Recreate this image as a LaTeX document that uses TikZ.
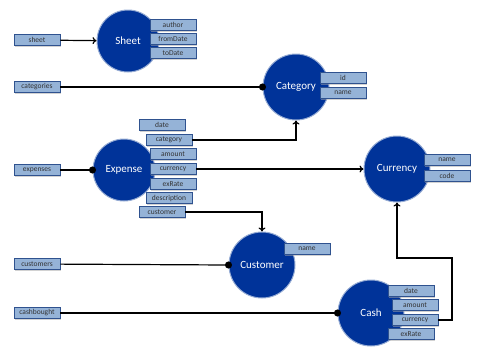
\documentclass[tikz,border=0pt]{standalone}
\usepackage{fontspec}
\setmainfont{Carlito}
\usetikzlibrary{arrows.meta,shadows}
\definecolor{entblue}{RGB}{0,51,153}
\definecolor{entrim}{RGB}{150,172,212}
\definecolor{attrfill}{RGB}{149,179,215}
\definecolor{attrline}{RGB}{47,82,143}
\tikzset{
  entity/.style={circle,fill=entblue,draw=entrim,line width=1pt,text=white,
    font=\fontsize{11}{13}\selectfont,inner sep=0pt},
  attr/.style={rectangle,fill=attrfill,draw=attrline,line width=0.8pt,
    minimum width=46pt,minimum height=11pt,inner sep=0pt,text=black!80,
    font=\fontsize{7.5}{8}\selectfont,
    drop shadow={shadow xshift=1pt,shadow yshift=-1pt,fill=black!35}},
  link/.style={line width=1.2pt},
  dot/.style={link,-{Circle[length=7pt]},shorten >=-3.5pt},
  arr/.style={link,-{To[length=4pt,width=7pt]}}
}

\begin{document}
\begin{tikzpicture}[x=1pt,y=-1pt]
  \useasboundingbox (0,0) rectangle (480,360);
  % 実体
  \node[entity,minimum size=62pt] (Sheet) at (128,41) {Sheet};
  \node[entity,minimum size=66pt] (Category) at (296,87) {Category};
  \node[entity,minimum size=62pt] (Expense) at (124,170) {Expense};
  \node[entity,minimum size=66pt] (Currency) at (397,169) {Currency};
  \node[entity,minimum size=66pt] (Customer) at (262,265) {Customer};
  \node[entity,minimum size=66pt] (Cash) at (371,313) {Cash};
  % 集合
  \node[attr] (sheet) at (37,40) {sheet};
  \node[attr] (categories) at (37,87) {categories};
  \node[attr] (expenses) at (37,170) {expenses};
  \node[attr] (customers) at (37,264) {customers};
  \node[attr] (cashbought) at (37,313) {cashbought};
  % 属性
  \node[attr] (sheetAuthor) at (173,25) {author};
  \node[attr] (sheetFrom) at (173,39) {fromDate};
  \node[attr] (sheetTo) at (173,53) {toDate};
  \node[attr] (catId) at (343,78) {id};
  \node[attr] (catName) at (343,93) {name};
  \node[attr] (expDate) at (162,125) {date};
  \node[attr] (expCat) at (169,140) {category};
  \node[attr] (expAmount) at (173,154) {amount};
  \node[attr] (expCur) at (173,169) {currency};
  \node[attr] (expRate) at (173,184) {exRate};
  \node[attr] (expDesc) at (169,198) {description};
  \node[attr] (expCust) at (162,212) {customer};
  \node[attr] (curName) at (447,160) {name};
  \node[attr] (curCode) at (447,176) {code};
  \node[attr] (custName) at (307,249) {name};
  \node[attr] (cashDate) at (411,291) {date};
  \node[attr] (cashAmount) at (415,305) {amount};
  \node[attr] (cashCur) at (415,320) {currency};
  \node[attr] (cashRate) at (411,334) {exRate};
  % 接続
  \draw[arr] (sheet) -- (Sheet);
  \draw[dot] (categories) -- (Category);
  \draw[dot] (expenses) -- (Expense);
  \draw[dot] (customers) -- (Customer.west);
  \draw[dot] (cashbought) -- (Cash.west);
  \draw[arr] (expCat) -| (Category.south);
  \draw[arr] (expCur.east) -- (Currency.west |- expCur.east);
  \draw[arr] (expCust) -| (Customer.north);
  \coordinate (bend) at (452,258);
  \draw[arr] (cashCur) -| (bend) -| (Currency.south);
\end{tikzpicture}
\end{document}
